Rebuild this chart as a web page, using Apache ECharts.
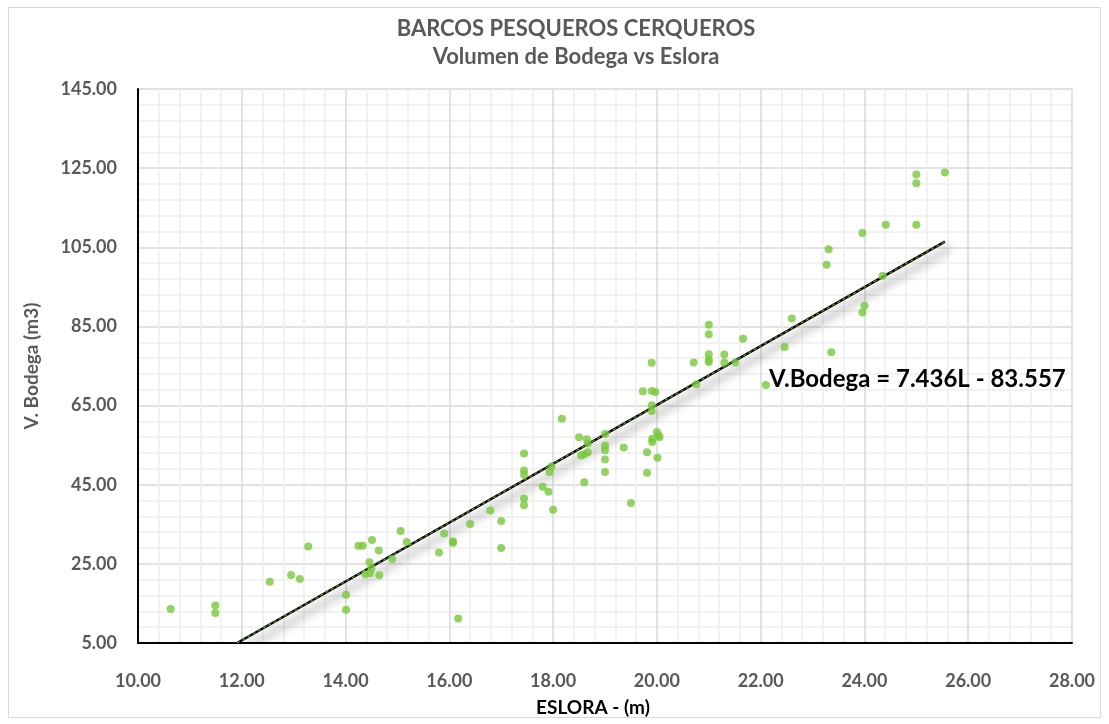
<!DOCTYPE html>
<html>
<head>
<meta charset="utf-8">
<script src="https://cdn.jsdelivr.net/npm/echarts@6/dist/echarts.min.js"></script>
<style>
html,body{margin:0;padding:0;background:#fff;}
#chart{width:1109px;height:724px;}
</style>
</head>
<body>
<div id="chart"></div>
<script>
// Eslora (m)
const eslora = [
  10.63, 11.49, 11.49, 12.54, 12.95, 13.12, 13.28, 14.01, 14.01, 14.25,
  14.33, 14.51, 14.64, 14.46, 14.38, 14.47, 14.50, 14.65, 14.90, 15.06,
  15.18, 15.80, 15.90, 16.07, 16.07, 16.17, 16.40, 16.79, 17.00, 17.00,
  17.44, 17.44, 17.44, 17.44, 17.44, 17.80, 17.91, 17.93, 17.97, 18.00,
  18.17, 18.50, 18.60, 18.65, 18.67, 18.54, 18.60, 18.67, 19.00, 19.00,
  19.00, 19.00, 19.00, 19.36, 19.50, 19.81, 19.81, 19.73, 19.90, 19.90,
  19.97, 19.90, 19.90, 19.91, 19.91, 20.00, 20.03, 20.05, 20.01, 20.71,
  20.76, 21.00, 21.00, 21.00, 21.00, 21.00, 21.30, 21.30, 21.51, 21.66,
  22.10, 22.46, 22.60, 23.36, 23.27, 23.31, 23.96, 23.96, 24.00, 24.35,
  24.41, 25.00, 25.00, 25.00, 25.55
];
// Volumen de bodega (m3)
const volumen = [
  13.6, 14.5, 12.6, 20.5, 22.2, 21.2, 29.4, 17.2, 13.4, 29.6,
  29.6, 31.0, 28.4, 25.4, 22.4, 22.6, 23.9, 22.1, 26.2, 33.3,
  30.5, 27.9, 32.7, 30.7, 30.3, 11.2, 35.1, 38.5, 35.8, 29.0,
  52.9, 48.6, 47.5, 41.5, 39.8, 44.5, 43.2, 48.2, 49.6, 38.7,
  61.7, 57.0, 45.6, 56.5, 55.4, 52.4, 52.7, 53.2, 57.8, 54.9,
  53.7, 51.4, 48.2, 54.4, 40.4, 53.2, 48.0, 68.6, 75.8, 68.7,
  68.4, 65.1, 63.6, 56.6, 55.8, 58.3, 57.5, 57.0, 51.8, 75.9,
  70.4, 85.4, 83.0, 78.0, 76.6, 76.0, 77.9, 75.9, 75.9, 81.9,
  70.2, 79.8, 87.0, 78.5, 100.6, 104.5, 108.6, 88.5, 90.2, 97.8,
  110.7, 123.4, 121.2, 110.7, 123.9
];
// Trend line: V = slope*L + intercept, drawn between these lengths
const slope = 7.436;
const intercept = -83.557;
const trendEslora = [11.91, 25.55];
const xTicks = {min: 10, max: 28, interval: 2};
const yTicks = {min: 5, max: 145, interval: 20};

const points = eslora.map((x, i) => [x, volumen[i]]);
const trend = trendEslora.map(x => [x, slope * x + intercept]);

const FONT = 'Lato';
const chart = echarts.init(document.getElementById('chart'), null, {renderer: 'canvas'});
chart.setOption({
  animation: false,
  backgroundColor: '#fff',
  title: [
    {text: 'BARCOS PESQUEROS CERQUEROS', left: 571, top: 13, textAlign: 'center',
     textStyle: {fontFamily: FONT, fontWeight: 'bold', fontSize: 22, color: '#595959'}},
    {text: 'Volumen de Bodega vs Eslora', left: 571, top: 41, textAlign: 'center',
     textStyle: {fontFamily: FONT, fontWeight: 'bold', fontSize: 22, color: '#595959'}}
  ],
  graphic: [
    {type: 'rect', shape: {x: 8.5, y: 7.5, width: 1092, height: 710},
     style: {fill: 'none', stroke: '#d9d9d9', lineWidth: 1}, silent: true, z: -10},
    {type: 'text', left: 769, top: 367,
     style: {text: 'V.Bodega = 7.436L - 83.557', fill: '#000', fontFamily: FONT,
              fontWeight: 'bold', fontSize: 24}, z: 100}
  ],
  grid: {left: 138, top: 89, right: 37, bottom: 81, containLabel: false},
  xAxis: {
    type: 'value', min: xTicks.min, max: xTicks.max, interval: xTicks.interval,
    name: 'ESLORA - (m)', nameLocation: 'middle', nameGap: 55,
    nameTextStyle: {fontFamily: FONT, fontWeight: 'bold', fontSize: 19, color: '#000', padding: [0, 24, 0, 0]},
    axisLine: {show: true, onZero: false, lineStyle: {color: '#000', width: 2}},
    axisTick: {show: false},
    axisLabel: {margin: 29, fontFamily: FONT, fontWeight: 'bold', fontSize: 18, color: '#595959',
                formatter: v => v.toFixed(2)},
    splitLine: {show: true, lineStyle: {color: '#d9d9d9', width: 1.5}},
    minorTick: {show: false, splitNumber: 5},
    minorSplitLine: {show: true, lineStyle: {color: '#eeeeee', width: 1.5}}
  },
  yAxis: {
    type: 'value', min: yTicks.min, max: yTicks.max, interval: yTicks.interval,
    name: 'V. Bodega (m3)', nameLocation: 'middle', nameGap: 97, nameRotate: 90,
    nameTextStyle: {fontFamily: FONT, fontWeight: 'bold', fontSize: 19, color: '#595959'},
    axisLine: {show: true, onZero: false, lineStyle: {color: '#000', width: 2}},
    axisTick: {show: false},
    axisLabel: {margin: 21, fontFamily: FONT, fontWeight: 'bold', fontSize: 18, color: '#595959',
                formatter: v => v.toFixed(2)},
    splitLine: {show: true, lineStyle: {color: '#d9d9d9', width: 1.5}},
    minorTick: {show: false, splitNumber: 5},
    minorSplitLine: {show: true, lineStyle: {color: '#eeeeee', width: 1.5}}
  },
  series: [
    {
      type: 'line', data: trend, symbol: 'none', silent: true, z: 3,
      lineStyle: {color: '#000', width: 2.5, shadowColor: 'rgba(0,0,0,0.55)',
                  shadowBlur: 10, shadowOffsetX: 5, shadowOffsetY: 7}
    },
    {
      type: 'line', data: trend, symbol: 'none', silent: true, z: 4,
      lineStyle: {color: '#7dc73d', width: 1, type: [3, 3]}
    },
    {
      type: 'scatter', data: points, symbol: 'circle', symbolSize: 8, z: 5,
      itemStyle: {color: '#78c83a'}
    }
  ]
});
</script>
</body>
</html>
